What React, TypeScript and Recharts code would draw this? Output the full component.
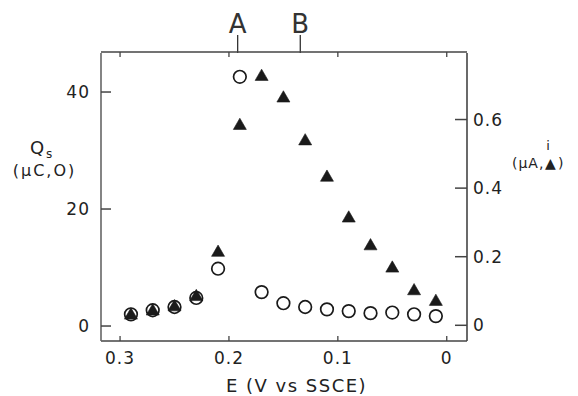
import React from 'react';
import { ScatterChart, Scatter, XAxis, YAxis, Label } from 'recharts';

// Electrode potential E (V vs SSCE)
const potentials = [0.29, 0.27, 0.25, 0.23, 0.21, 0.19, 0.17, 0.15, 0.13, 0.11, 0.09, 0.07, 0.05, 0.03, 0.01];
// Q_s (µC) – open circles, left axis
const chargeQs = [2.0, 2.7, 3.25, 4.8, 9.8, 42.6, 5.8, 3.9, 3.25, 2.85, 2.55, 2.2, 2.3, 2.0, 1.7];
// i (µA) – filled triangles, right axis
const currentI = [0.029, 0.041, 0.053, 0.083, 0.212, 0.582, 0.725, 0.662, 0.537, 0.431, 0.312, 0.231, 0.166, 0.1, 0.069];

const xTicks = [0.3, 0.2, 0.1, 0];
const leftTicks = [0, 20, 40];
const rightTicks = [0, 0.2, 0.4, 0.6];
const markerPositions = [0.192, 0.1345];
const markerLabels = ['A', 'B'];

const xDomain: [number, number] = [-0.0186, 0.3175];
const leftDomain: [number, number] = [-2.56, 46.67];
const rightDomain: [number, number] = [-0.0458, 0.794];

const circleData = potentials.map((e, k) => ({ e, q: chargeQs[k] }));
const triangleData = potentials.map((e, k) => ({ e, i: currentI[k] }));

const INK = '#1a1a1a';
const FRAME = '#444';

const OpenCircle = (props: any) => {
  const { cx, cy } = props;
  if (cx == null || cy == null) return <g />;
  return <circle cx={cx} cy={cy} r={6.3} fill="none" stroke={INK} strokeWidth={1.7} />;
};

const FilledTriangle = (props: any) => {
  const { cx, cy } = props;
  if (cx == null || cy == null) return <g />;
  const s = 13;
  const h = (s * Math.sqrt(3)) / 2;
  const d = `M${cx},${cy - (2 * h) / 3} L${cx + s / 2},${cy + h / 3} L${cx - s / 2},${cy + h / 3} Z`;
  return <path d={d} fill={INK} stroke={INK} strokeWidth={0.6} strokeLinejoin="round" />;
};

const NoMark = () => <g />;
const EmptyTick = () => <g />;

const tickStyle = { fontSize: 17, fill: '#222', letterSpacing: 1 } as any;

export default function App() {
  return (
    <div
      style={{
        position: 'fixed',
        left: 0,
        top: 0,
        width: 578,
        height: 396,
        overflow: 'hidden',
        background: '#fff',
        fontFamily: '"DejaVu Sans", sans-serif',
      }}
    >
      <ScatterChart width={578} height={396} margin={{ top: 51, right: 0, bottom: 0, left: 0 }}>
        <XAxis
          xAxisId="bottom"
          dataKey="e"
          type="number"
          orientation="bottom"
          domain={xDomain}
          allowDataOverflow
          reversed
          ticks={xTicks}
          tickFormatter={(v: number) => (v === 0 ? '0' : String(v))}
          height={55}
          tickSize={-5}
          tickMargin={16}
          tick={tickStyle}
          axisLine={{ stroke: FRAME, strokeWidth: 1.6 }}
          tickLine={{ stroke: FRAME, strokeWidth: 1.3 }}
        >
          <Label
            content={() => (
              <text x={296.5} y={392} textAnchor="middle" fontSize={18} fill="#222" style={{ letterSpacing: 1.5 }}>
                E (V vs SSCE)
              </text>
            )}
          />
        </XAxis>
        <XAxis
          xAxisId="markers"
          dataKey="e"
          type="number"
          orientation="top"
          domain={xDomain}
          allowDataOverflow
          reversed
          ticks={markerPositions}
          tickFormatter={(v: number) => markerLabels[markerPositions.indexOf(v)]}
          height={1}
          tickSize={18}
          tickMargin={2}
          tick={{ fontSize: 26, fill: '#333', fontFamily: '"DejaVu Sans ExtraLight", "DejaVu Sans", sans-serif' } as any}
          axisLine={false}
          tickLine={{ stroke: '#333', strokeWidth: 1.3 }}
        />
        <XAxis
          xAxisId="topFrame"
          dataKey="e"
          type="number"
          orientation="top"
          domain={xDomain}
          allowDataOverflow
          reversed
          ticks={xTicks}
          height={1}
          tickSize={-5}
          tick={EmptyTick}
          axisLine={{ stroke: FRAME, strokeWidth: 1.6 }}
          tickLine={{ stroke: FRAME, strokeWidth: 1.3 }}
        />
        <YAxis
          yAxisId="left"
          orientation="left"
          type="number"
          domain={leftDomain}
          allowDataOverflow
          ticks={leftTicks}
          width={101}
          tickSize={-10}
          tickMargin={21}
          tick={tickStyle}
          axisLine={{ stroke: '#666', strokeWidth: 1.6 }}
          tickLine={{ stroke: FRAME, strokeWidth: 1.5 }}
        >
          <Label
            content={() => (
              <g fill="#222">
                <text x={30} y={154} fontSize={18}>
                  Q
                </text>
                <text x={46} y={158} fontSize={12}>
                  s
                </text>
                <text x={44.5} y={176} fontSize={16} textAnchor="middle" style={{ letterSpacing: 2 }}>
                  (μC,O)
                </text>
              </g>
            )}
          />
        </YAxis>
        <YAxis
          yAxisId="right"
          orientation="right"
          type="number"
          domain={rightDomain}
          allowDataOverflow
          ticks={rightTicks}
          tickFormatter={(v: number) => (v === 0 ? '0' : String(v))}
          width={111}
          tickSize={-12}
          tickMargin={18}
          tick={tickStyle}
          axisLine={{ stroke: FRAME, strokeWidth: 1.6 }}
          tickLine={{ stroke: FRAME, strokeWidth: 1.5 }}
        >
          <Label
            content={() => (
              <g fill="#222">
                <text x={548} y={150} fontSize={13} textAnchor="middle">
                  i
                </text>
                <text x={512} y={168} fontSize={14} style={{ letterSpacing: 1 }}>
                  (μA,
                </text>
                <text x={545} y={168} fontSize={14}>
                  ▲
                </text>
                <text x={558} y={168} fontSize={14}>
                  )
                </text>
              </g>
            )}
          />
        </YAxis>
        <Scatter
          name="Qs"
          data={circleData}
          dataKey="q"
          xAxisId="bottom"
          yAxisId="left"
          shape={OpenCircle}
          isAnimationActive={false}
        />
        <Scatter
          name="i"
          data={triangleData}
          dataKey="i"
          xAxisId="bottom"
          yAxisId="right"
          shape={FilledTriangle}
          isAnimationActive={false}
        />
        <Scatter data={circleData} dataKey="q" xAxisId="markers" yAxisId="left" shape={NoMark} isAnimationActive={false} legendType="none" />
        <Scatter data={circleData} dataKey="q" xAxisId="topFrame" yAxisId="left" shape={NoMark} isAnimationActive={false} legendType="none" />
      </ScatterChart>
    </div>
  );
}
